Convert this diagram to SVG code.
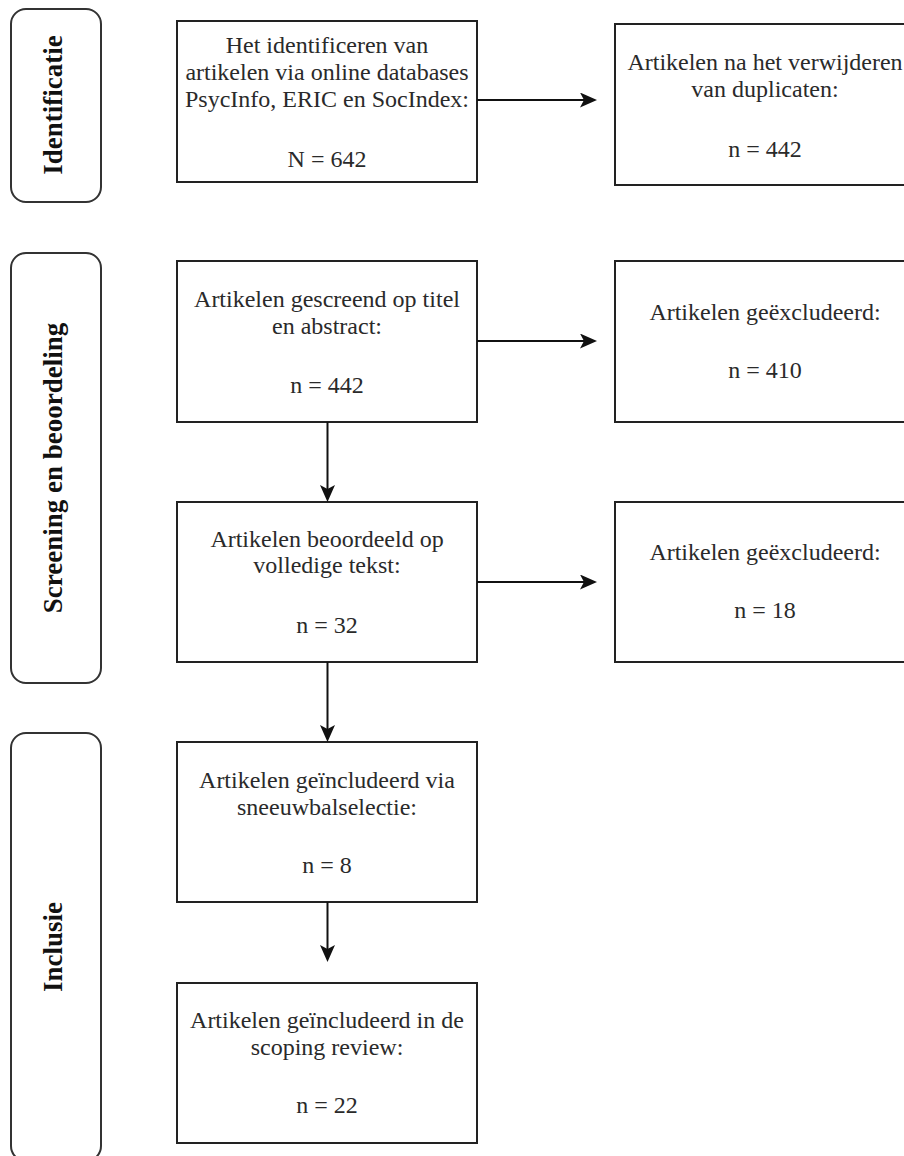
<svg xmlns="http://www.w3.org/2000/svg" width="904" height="1156" viewBox="0 0 904 1156">
<style>
.box{fill:#fff;stroke:#222;stroke-width:2}
.side{fill:#fff;stroke:#333;stroke-width:2}
.t{font-family:"Liberation Serif","Times New Roman",serif;font-size:24px;fill:#2a2a2a;text-anchor:middle}
.s{font-family:"Liberation Serif","Times New Roman",serif;font-size:27px;font-weight:bold;fill:#111;text-anchor:middle}
.c{fill:none;stroke:#111;stroke-width:2}
</style>
<defs>
<marker id="ah" viewBox="0 0 17 15" refX="9" refY="7.5" markerWidth="17" markerHeight="15" markerUnits="userSpaceOnUse" orient="auto">
<path d="M0,0 L17,7.5 L0,15 L4,7.5 Z" fill="#111"/>
</marker>
</defs>
<rect width="904" height="1156" fill="#fff"/>

<g id="phase-identificatie">
<rect class="side" x="11" y="9" width="90" height="193" rx="15"/>
<text class="s" transform="translate(62,105) rotate(-90)">Identificatie</text>
</g>
<g id="phase-screening">
<rect class="side" x="11" y="253" width="90" height="430" rx="15"/>
<text class="s" transform="translate(62,468) rotate(-90)">Screening en beoordeling</text>
</g>
<g id="phase-inclusie">
<rect class="side" x="11" y="733" width="90" height="428" rx="15"/>
<text class="s" transform="translate(62,947) rotate(-90)">Inclusie</text>
</g>

<g id="n-identificeren">
<rect class="box" x="177" y="21" width="300" height="161"/>
<text class="t" x="327" y="53">Het identificeren van</text>
<text class="t" x="327" y="80">artikelen via online databases</text>
<text class="t" x="327" y="107">PsycInfo, ERIC en SocIndex:</text>
<text class="t" x="327" y="167">N = 642</text>
</g>
<g id="n-duplicaten">
<rect class="box" x="615" y="24" width="300" height="161"/>
<text class="t" x="765" y="70">Artikelen na het verwijderen</text>
<text class="t" x="765" y="97">van duplicaten:</text>
<text class="t" x="765" y="157">n = 442</text>
</g>
<g id="n-gescreend">
<rect class="box" x="177" y="261" width="300" height="161"/>
<text class="t" x="327" y="307">Artikelen gescreend op titel</text>
<text class="t" x="327" y="334">en abstract:</text>
<text class="t" x="327" y="393">n = 442</text>
</g>
<g id="n-excl1">
<rect class="box" x="615" y="261" width="300" height="161"/>
<text class="t" x="765" y="320">Artikelen geëxcludeerd:</text>
<text class="t" x="765" y="378">n = 410</text>
</g>
<g id="n-beoordeeld">
<rect class="box" x="177" y="502" width="300" height="160"/>
<text class="t" x="327" y="547">Artikelen beoordeeld op</text>
<text class="t" x="327" y="573">volledige tekst:</text>
<text class="t" x="327" y="633">n = 32</text>
</g>
<g id="n-excl2">
<rect class="box" x="615" y="502" width="300" height="160"/>
<text class="t" x="765" y="560">Artikelen geëxcludeerd:</text>
<text class="t" x="765" y="618">n = 18</text>
</g>
<g id="n-sneeuwbal">
<rect class="box" x="177" y="742" width="300" height="160"/>
<text class="t" x="327" y="788">Artikelen geïncludeerd via</text>
<text class="t" x="327" y="815">sneeuwbalselectie:</text>
<text class="t" x="327" y="873">n = 8</text>
</g>
<g id="n-review">
<rect class="box" x="177" y="983" width="300" height="160"/>
<text class="t" x="327" y="1028">Artikelen geïncludeerd in de</text>
<text class="t" x="327" y="1055">scoping review:</text>
<text class="t" x="327" y="1113">n = 22</text>
</g>

<g id="connectors">
<path class="c" d="M477,100 H589" marker-end="url(#ah)"/>
<path class="c" d="M477,341 H589" marker-end="url(#ah)"/>
<path class="c" d="M477,582 H589" marker-end="url(#ah)"/>
<path class="c" d="M327.5,422 V494" marker-end="url(#ah)"/>
<path class="c" d="M327.5,662 V734" marker-end="url(#ah)"/>
<path class="c" d="M327.5,902 V954" marker-end="url(#ah)"/>
</g>
</svg>
